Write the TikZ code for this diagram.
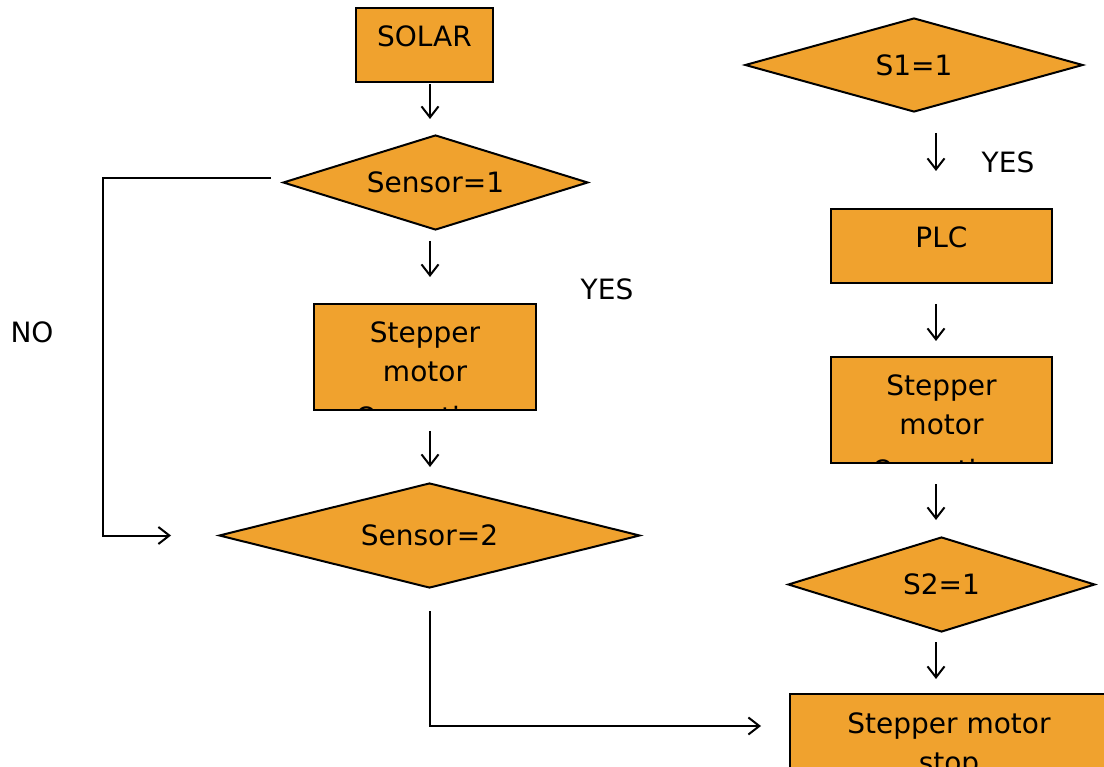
\documentclass[tikz,border=0pt]{standalone}
\usepackage{fontspec}
\setmainfont{DejaVu Sans}
\usetikzlibrary{shapes.geometric,arrows.meta}
\definecolor{flowfill}{RGB}{240,162,46}
\begin{document}
\begin{tikzpicture}[
    x=1pt,y=-1pt,
	font=\fontsize{28}{39}\selectfont,
	box/.style={draw, fill=flowfill, line width=2pt, inner sep=0,
		path picture={\node[anchor=base, inner sep=0] at ([yshift=-39pt]path picture bounding box.north) {\begin{tabular}[t]{@{}c@{}}#1\end{tabular}};}},
	test/.style={draw, diamond, fill=flowfill, line width=2pt, inner sep=0},
	arr/.style={-{Straight Barb[length=11pt,width=17pt]}, line width=2pt}
]
\clip (0,0) rectangle (1104,767);

\coordinate (lcol) at (430,0);
\coordinate (rcol) at (936,0);

\node[box={SOLAR}, minimum width=137, minimum height=74] (solar) at (424.5,45) {};
\node[test, minimum width=305, minimum height=95, aspect=3.21] (sensor1) at (435.5,182.5) {Sensor=1};
\node[box={Stepper\\motor\\[7pt]Operation}, minimum width=222, minimum height=106] (step1) at (425,357) {};
\node[test, minimum width=421, minimum height=105, aspect=4.01] (sensor2) at (429.5,535.5) {Sensor=2};

\node (yes1) at (607,289) {YES};
\node (no) at (32,332) {NO};

\node[test, minimum width=338, minimum height=94, aspect=3.6] (s1) at (914,65) {S1=1};
\node (yes2) at (1008,162) {YES};
\node[box={PLC}, minimum width=221, minimum height=74] (plc) at (941.5,246) {};
\node[box={Stepper\\motor\\[7pt]Operation}, minimum width=221, minimum height=106] (step2) at (941.5,410) {};
\node[test, minimum width=307, minimum height=95, aspect=3.23] (s2) at (941.5,584.5) {S2=1};
\node[box={Stepper motor\\stop}, minimum width=318, minimum height=74] (stop) at (949,731) {};

\draw[arr, shorten <=1pt, shorten >=15pt] (solar.south -| lcol) -- (sensor1.north -| lcol);
\draw[arr, shorten <=10pt, shorten >=26pt] (sensor1.south -| lcol) -- (step1.north -| lcol);
\draw[arr, shorten <=20pt, shorten >=15pt] (step1.south -| lcol) -- (sensor2.north -| lcol);

\draw[arr, shorten <=20pt, shorten >=37pt] (s1.south -| rcol) -- (plc.north -| rcol);
\draw[arr, shorten <=20pt, shorten >=15pt] (plc.south -| rcol) -- (step2.north -| rcol);
\draw[arr, shorten <=20pt, shorten >=16pt] (step2.south -| rcol) -- (s2.north -| rcol);
\draw[arr, shorten <=9pt, shorten >=14pt] (s2.south -| rcol) -- (stop.north -| rcol);

\draw[arr] ([shift={(-11,-4.5)}]sensor1.west) -- ++(-168,0) |- ([xshift=-47pt]sensor2.west);
\draw[arr, shorten <=22pt] (sensor2.south -| lcol) |- ([shift={(-28,-5)}]stop.west);
\end{tikzpicture}
\end{document}
